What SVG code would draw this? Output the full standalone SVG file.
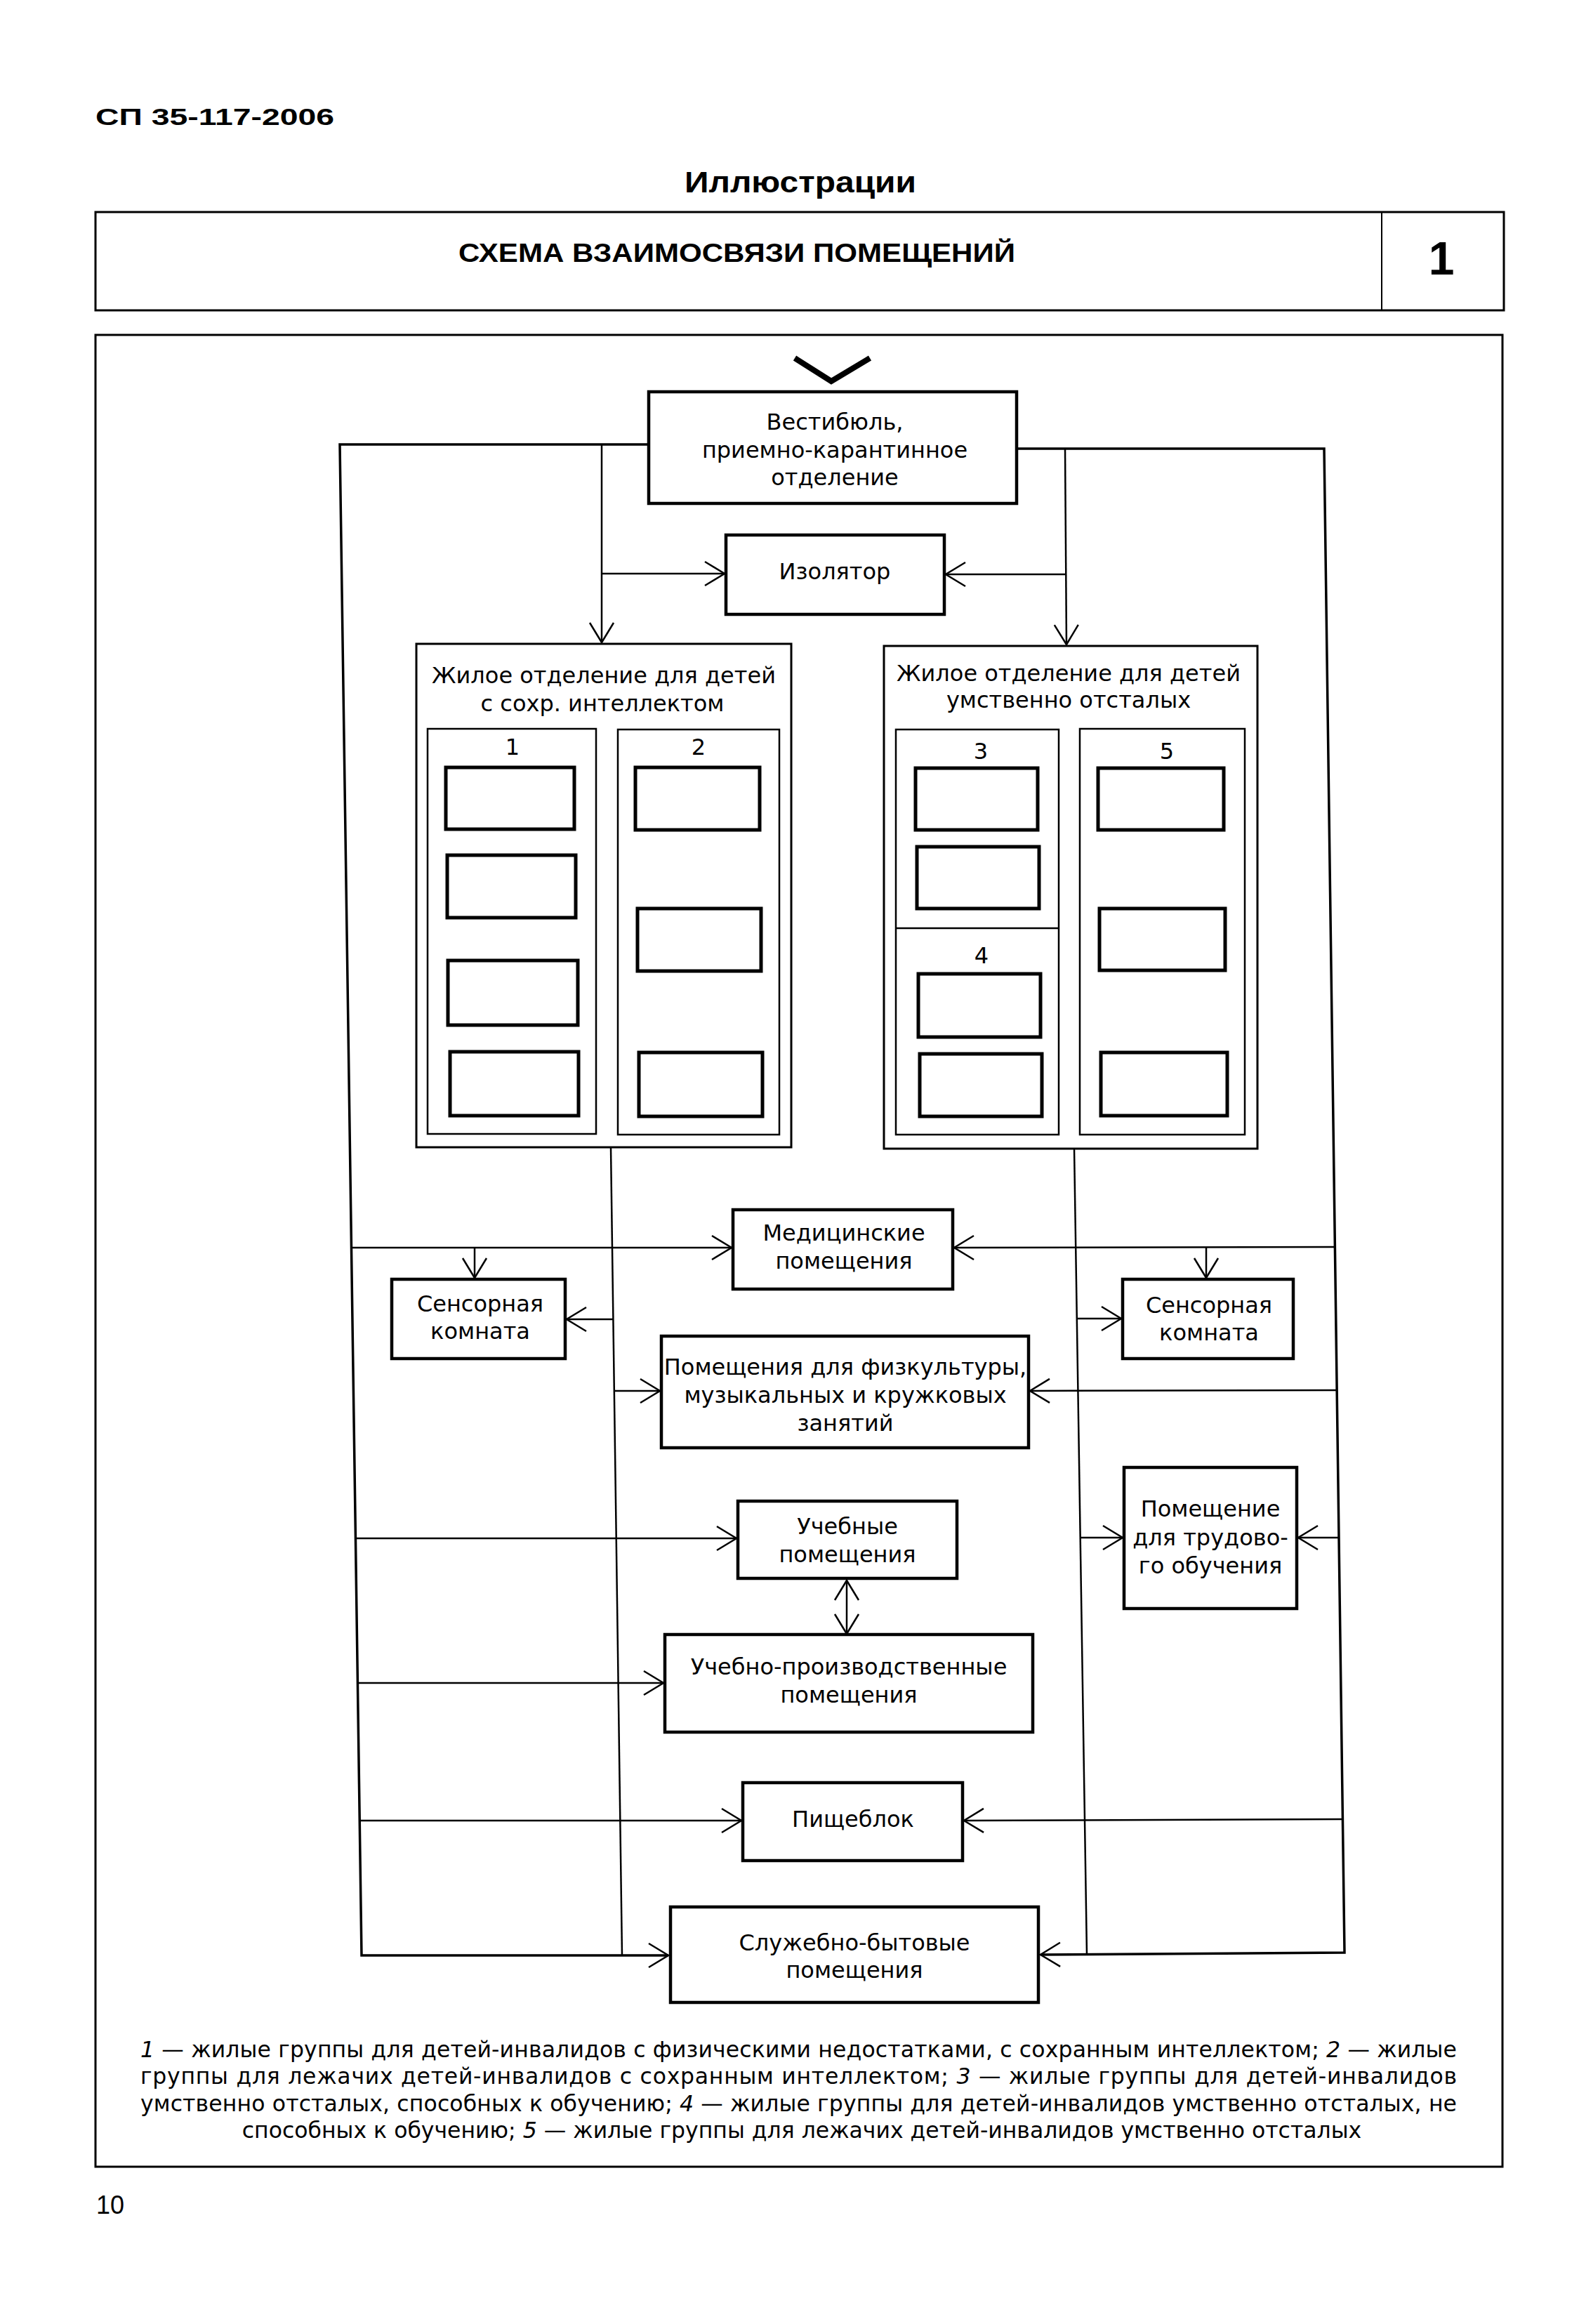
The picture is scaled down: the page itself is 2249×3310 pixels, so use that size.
<svg xmlns="http://www.w3.org/2000/svg" width="2249" height="3310" viewBox="0 0 2249 3310">
<style>
.bg{fill:#fff}
.frame{fill:none;stroke:#000;stroke-width:3}
.node{fill:#fff;stroke:#000;stroke-width:4.5}
.outer{fill:none;stroke:#000;stroke-width:3}
.sub{fill:none;stroke:#000;stroke-width:2.5}
.room{fill:#fff;stroke:#000;stroke-width:5}
.ln{fill:none;stroke:#000;stroke-width:2.5}
.loop{fill:none;stroke:#000;stroke-width:3.5}
.t{font-family:"DejaVu Sans","Liberation Sans",sans-serif;font-size:32px;fill:#000;text-anchor:middle}
.h{font-family:"DejaVu Sans","Liberation Sans",sans-serif;font-size:32px;fill:#000;text-anchor:middle}
.num{font-family:"DejaVu Sans","Liberation Sans",sans-serif;font-size:32px;fill:#000;text-anchor:middle}
.leg{font-family:"DejaVu Sans","Liberation Sans",sans-serif;font-size:31.5px;fill:#000}
.b{font-family:"Liberation Sans","DejaVu Sans",sans-serif;font-weight:bold;fill:#000}
</style>
<defs>
<marker id="arr" markerUnits="userSpaceOnUse" markerWidth="60" markerHeight="60" viewBox="-40 -30 60 60" refX="0" refY="0" orient="auto-start-reverse" overflow="visible">
<path d="M-28,-17 L0,0 L-28,17" fill="none" stroke="#000" stroke-width="2.5"/>
</marker>
</defs>
<rect class="bg" x="0" y="0" width="2249" height="3310"/>

<g id="page-header">
<text class="b" x="136" y="178" font-size="34" textLength="340" lengthAdjust="spacingAndGlyphs">СП 35-117-2006</text>
<text class="b" x="975" y="274" font-size="42" textLength="330" lengthAdjust="spacingAndGlyphs">Иллюстрации</text>
<rect class="frame" x="136" y="302" width="2006" height="140"/>
<line x1="1968" y1="302" x2="1968" y2="442" stroke="#000" stroke-width="2"/>
<text class="b" x="653" y="373" font-size="36" textLength="793" lengthAdjust="spacingAndGlyphs">СХЕМА ВЗАИМОСВЯЗИ ПОМЕЩЕНИЙ</text>
<text class="b" x="2053" y="391" font-size="66" text-anchor="middle">1</text>
</g>

<g id="main-frame">
<rect class="frame" x="136" y="477" width="2004" height="2609"/>
</g>

<g id="connectors">
<polyline points="1132,510 1184,543 1239,510" fill="none" stroke="#000" stroke-width="8"/>
<path class="loop" d="M924,633 L484,633 L515,2785 L952,2785" marker-end="url(#arr)"/>
<path class="loop" d="M1448,639 L1886,639 L1915,2781 L1482,2784" marker-end="url(#arr)"/>
<path class="ln" d="M857,633 L857,915" marker-end="url(#arr)"/>
<path class="ln" d="M1517,639 L1519,918" marker-end="url(#arr)"/>
<path class="ln" d="M857,817 L1032,817" marker-end="url(#arr)"/>
<path class="ln" d="M1517,818 L1347,818" marker-end="url(#arr)"/>
<path class="ln" d="M870,1634 L886,2785"/>
<path class="ln" d="M1530,1636 L1548,2784"/>
<path class="ln" d="M500,1777 L1042,1777" marker-end="url(#arr)"/>
<path class="ln" d="M1901,1776 L1359,1777" marker-end="url(#arr)"/>
<path class="ln" d="M676,1777 L676,1820" marker-end="url(#arr)"/>
<path class="ln" d="M1718,1777 L1718,1820" marker-end="url(#arr)"/>
<path class="ln" d="M873,1879 L807,1879" marker-end="url(#arr)"/>
<path class="ln" d="M1534,1878 L1597,1878" marker-end="url(#arr)"/>
<path class="ln" d="M875,1981 L940,1981" marker-end="url(#arr)"/>
<path class="ln" d="M1904,1980 L1467,1981" marker-end="url(#arr)"/>
<path class="ln" d="M506,2191 L1049,2191" marker-end="url(#arr)"/>
<path class="ln" d="M1539,2190 L1599,2190" marker-end="url(#arr)"/>
<path class="ln" d="M1907,2190 L1849,2190" marker-end="url(#arr)"/>
<path class="ln" d="M1206,2251 L1206,2327" marker-start="url(#arr)" marker-end="url(#arr)"/>
<path class="ln" d="M509,2397 L945,2397" marker-end="url(#arr)"/>
<path class="ln" d="M512,2593 L1056,2593" marker-end="url(#arr)"/>
<path class="ln" d="M1912,2591 L1373,2593" marker-end="url(#arr)"/>
</g>

<g id="vestibule">
<rect class="node" x="924" y="558" width="524" height="159"/>
<text class="t" x="1189" y="612">Вестибюль,</text>
<text class="t" x="1189" y="652">приемно-карантинное</text>
<text class="t" x="1189" y="691">отделение</text>
</g>

<g id="izolyator">
<rect class="node" x="1034" y="762" width="311" height="113"/>
<text class="t" x="1189" y="825">Изолятор</text>
</g>

<g id="living-left">
<rect class="outer" x="593" y="917" width="534" height="717"/>
<text class="h" x="860" y="973">Жилое отделение для детей</text>
<text class="h" x="858" y="1013">с сохр. интеллектом</text>
<rect class="sub" x="609" y="1038" width="240" height="577"/>
<rect class="sub" x="880" y="1039" width="230" height="577"/>
<text class="num" x="730" y="1075">1</text>
<text class="num" x="995" y="1075">2</text>
<rect class="room" x="635" y="1093" width="183" height="88"/>
<rect class="room" x="637" y="1218" width="183" height="89"/>
<rect class="room" x="638" y="1368" width="185" height="92"/>
<rect class="room" x="641" y="1498" width="183" height="91"/>
<rect class="room" x="905" y="1093" width="177" height="89"/>
<rect class="room" x="908" y="1294" width="176" height="89"/>
<rect class="room" x="910" y="1499" width="176" height="91"/>
</g>

<g id="living-right">
<rect class="outer" x="1259" y="920" width="532" height="716"/>
<text class="h" x="1522" y="970">Жилое отделение для детей</text>
<text class="h" x="1522" y="1008">умственно отсталых</text>
<rect class="sub" x="1276" y="1039" width="232" height="577"/>
<line class="sub" x1="1276" y1="1322" x2="1508" y2="1322"/>
<rect class="sub" x="1538" y="1038" width="235" height="578"/>
<text class="num" x="1397" y="1081">3</text>
<text class="num" x="1398" y="1372">4</text>
<text class="num" x="1662" y="1081">5</text>
<rect class="room" x="1304" y="1094" width="174" height="88"/>
<rect class="room" x="1306" y="1206" width="174" height="88"/>
<rect class="room" x="1308" y="1387" width="174" height="90"/>
<rect class="room" x="1310" y="1501" width="174" height="89"/>
<rect class="room" x="1564" y="1094" width="179" height="88"/>
<rect class="room" x="1566" y="1294" width="179" height="88"/>
<rect class="room" x="1568" y="1499" width="180" height="90"/>
</g>

<g id="medical">
<rect class="node" x="1044" y="1723" width="313" height="113"/>
<text class="t" x="1202" y="1767">Медицинские</text>
<text class="t" x="1202" y="1807">помещения</text>
</g>

<g id="sensory-left">
<rect class="node" x="558" y="1822" width="247" height="113"/>
<text class="t" x="684" y="1868">Сенсорная</text>
<text class="t" x="684" y="1907">комната</text>
</g>

<g id="sensory-right">
<rect class="node" x="1599" y="1822" width="243" height="113"/>
<text class="t" x="1722" y="1870">Сенсорная</text>
<text class="t" x="1722" y="1909">комната</text>
</g>

<g id="phys-ed">
<rect class="node" x="942" y="1903" width="523" height="159"/>
<text class="t" x="1204" y="1958">Помещения для физкультуры,</text>
<text class="t" x="1204" y="1998">музыкальных и кружковых</text>
<text class="t" x="1204" y="2038">занятий</text>
</g>

<g id="labor">
<rect class="node" x="1601" y="2090" width="246" height="201"/>
<text class="t" x="1724" y="2160">Помещение</text>
<text class="t" x="1724" y="2201">для трудово-</text>
<text class="t" x="1724" y="2241">го обучения</text>
</g>

<g id="uchebnye">
<rect class="node" x="1051" y="2138" width="312" height="110"/>
<text class="t" x="1207" y="2185">Учебные</text>
<text class="t" x="1207" y="2225">помещения</text>
</g>

<g id="uchebno-proizv">
<rect class="node" x="947" y="2328" width="524" height="139"/>
<text class="t" x="1209" y="2385">Учебно-производственные</text>
<text class="t" x="1209" y="2425">помещения</text>
</g>

<g id="pishcheblok">
<rect class="node" x="1058" y="2539" width="313" height="111"/>
<text class="t" x="1215" y="2602">Пищеблок</text>
</g>

<g id="sluzhebno">
<rect class="node" x="955" y="2716" width="524" height="136"/>
<text class="t" x="1217" y="2778">Служебно-бытовые</text>
<text class="t" x="1217" y="2817">помещения</text>
</g>

<g id="legend">
<text class="leg" x="200" y="2930" textLength="1875" lengthAdjust="spacing"><tspan font-style="italic">1</tspan> — жилые группы для детей-инвалидов с физическими недостатками, с сохранным интеллектом; <tspan font-style="italic">2</tspan> — жилые</text>
<text class="leg" x="200" y="2968" textLength="1875" lengthAdjust="spacing">группы для лежачих детей-инвалидов с сохранным интеллектом; <tspan font-style="italic">3</tspan> — жилые группы для детей-инвалидов</text>
<text class="leg" x="200" y="3007" textLength="1875" lengthAdjust="spacing">умственно отсталых, способных к обучению; <tspan font-style="italic">4</tspan> — жилые группы для детей-инвалидов умственно отсталых, не</text>
<text class="leg" x="1142" y="3045" text-anchor="middle">способных к обучению; <tspan font-style="italic">5</tspan> — жилые группы для лежачих детей-инвалидов умственно отсталых</text>
</g>

<g id="page-number">
<text x="137" y="3153" font-family="Liberation Sans, sans-serif" font-size="36" fill="#000">10</text>
</g>
</svg>
